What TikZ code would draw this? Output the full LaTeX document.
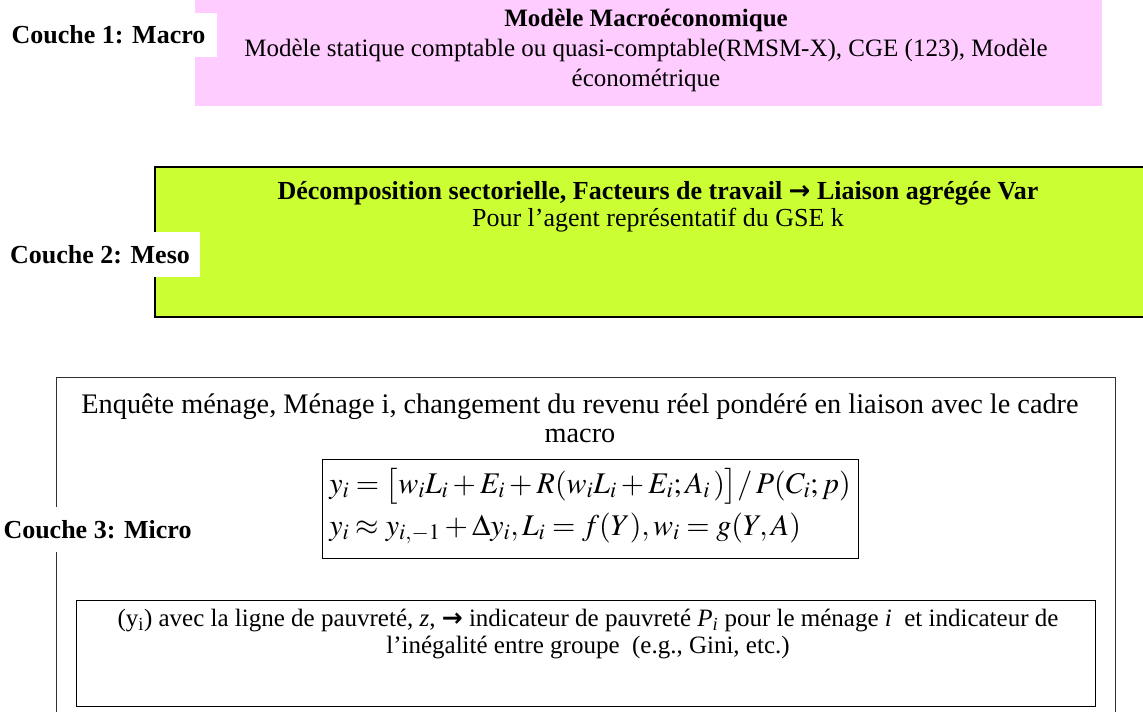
\documentclass[tikz,border=0pt]{standalone}
\usepackage{mathptmx}
\usepackage{fontspec}
\setmainfont{Liberation Serif}
\newfontfamily\symfont{DejaVu Sans}
\definecolor{pinkc}{HTML}{FFCCFF}
\definecolor{greenc}{HTML}{CCFF33}
\definecolor{framec}{HTML}{303030}
\tikzset{
  labelbox/.style={fill=white, inner sep=0pt, font=\fontsize{26}{30}\selectfont\bfseries},
  bodytext/.style={align=center, inner sep=0pt},
}
\newcommand{\arrsym}{{\symfont\bfseries →}}
\begin{document}
\begin{tikzpicture}[x=1pt,y=-1pt]
\useasboundingbox (0,0) rectangle (1143,712);
\clip (0,0) rectangle (1143,712);
\fill[white] (0,0) rectangle (1143,712);

% Couche 1
\node[fill=pinkc, inner sep=0pt, minimum width=907, minimum height=106] (macro) at (648.5,53) {};
\node[bodytext, font=\fontsize{25}{30}\selectfont] (macrotxt) at (646,50)
  {\textbf{Modèle Macroéconomique}\\
   Modèle statique comptable ou quasi-comptable(RMSM-X), CGE (123), Modèle\\
   économétrique};
\node[labelbox, minimum width=217, minimum height=44] (l1) at (108.5,35) {Couche 1: Macro};

% Couche 2
\node[draw=black, line width=1.5pt, fill=greenc, inner sep=0pt, minimum width=1000, minimum height=150] (meso) at (655,242) {};
\node[bodytext, font=\fontsize{26}{27}\selectfont] (mesotxt) at (658,207)
  {\textbf{Décomposition sectorielle, Facteurs de travail \arrsym{} Liaison agrégée Var}\\
   Pour l’agent représentatif du GSE k};
\node[labelbox, minimum width=200, minimum height=45] (l2) at (100,254.5) {Couche 2: Meso};

% Couche 3
\node[draw=framec, line width=1pt, inner sep=0pt, minimum width=1059, minimum height=350, anchor=north west] (micro) at (56,377) {};
\node[bodytext, font=\fontsize{28.3}{29}\selectfont] (enq) at (580,418)
  {Enquête ménage, Ménage i, changement du revenu réel pondéré en liaison avec le cadre\\
   macro};
\node[draw=black, line width=1pt, inner sep=0pt, minimum width=536, minimum height=99] (eq) at (590,508.5) {};
\node[align=left, inner sep=0pt, font=\fontsize{30}{42}\selectfont] (eqtxt) at (590,506)
  {$y_i =\bigl[w_iL_i + E_i + R(w_iL_i + E_i; A_i\,)\bigr]/\,P(C_i; p)$\\
   $y_i \approx y_{i,-1} + \Delta y_i, L_i = f(Y), w_i = g(Y, A)$};
\node[labelbox, minimum width=195, minimum height=45] (l3) at (97.5,529.5) {Couche 3: Micro};

\node[draw=black, line width=1.2pt, inner sep=0pt, minimum width=1019, minimum height=106, anchor=north west] (pov) at (76,600) {};
\node[bodytext, font=\fontsize{25}{27.5}\selectfont] (povtxt) at (588,634)
  {(y\textsubscript{i}) avec la ligne de pauvreté, \textit{z}, \arrsym{} indicateur de pauvreté \textit{P\textsubscript{i}} pour le ménage \textit{i} \ et indicateur de\\
   l’inégalité entre groupe \ (e.g., Gini, etc.)};
\end{tikzpicture}
\end{document}
